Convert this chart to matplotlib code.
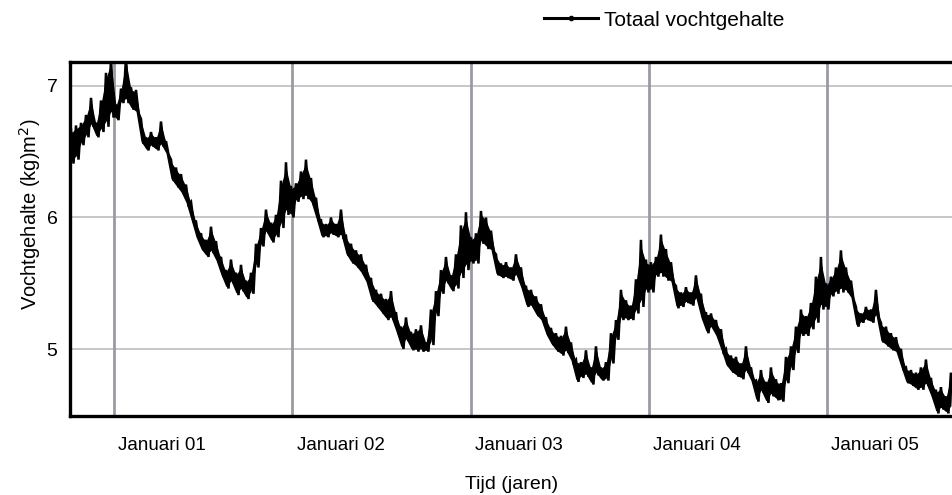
import numpy as np
import matplotlib
matplotlib.use("Agg")
import matplotlib.pyplot as plt
from matplotlib.lines import Line2D

# Time axis (years since start; "Januari 01" = 1.0), one sample per ~0.028 yr
start_year = 0.7588
step_year = 0.02804

# Upper / lower extent of the noisy daily signal (kg/m2)
upper = [6.67, 6.70, 6.72, 6.78, 6.91, 6.72, 6.89, 7.10, 7.22, 6.86,
         6.98, 7.22, 6.99, 6.97, 6.75, 6.61, 6.65, 6.61, 6.73, 6.58,
         6.44, 6.38, 6.33, 6.25, 6.12, 5.97, 5.88, 5.83, 5.93, 5.82,
         5.70, 5.60, 5.68, 5.58, 5.64, 5.52, 5.58, 5.80, 5.92, 6.06,
         5.96, 6.02, 6.28, 6.42, 6.24, 6.26, 6.35, 6.44, 6.30, 6.15,
         5.98, 5.95, 6.00, 5.95, 6.06, 5.86, 5.80, 5.75, 5.72, 5.64,
         5.54, 5.45, 5.42, 5.38, 5.44, 5.28, 5.17, 5.24, 5.13, 5.15,
         5.18, 5.05, 5.30, 5.44, 5.60, 5.70, 5.56, 5.72, 5.94, 6.04,
         5.85, 5.88, 6.05, 6.00, 5.90, 5.72, 5.65, 5.66, 5.62, 5.72,
         5.62, 5.48, 5.45, 5.40, 5.34, 5.24, 5.16, 5.12, 5.10, 5.17,
         5.05, 4.92, 4.90, 4.99, 4.86, 5.02, 4.86, 4.90, 5.12, 5.22,
         5.45, 5.37, 5.33, 5.53, 5.83, 5.68, 5.66, 5.70, 5.87, 5.76,
         5.66, 5.48, 5.43, 5.47, 5.43, 5.56, 5.42, 5.28, 5.27, 5.22,
         5.15, 5.00, 4.95, 4.94, 4.89, 5.02, 4.86, 4.76, 4.84, 4.75,
         4.86, 4.77, 4.74, 4.94, 5.02, 5.17, 5.30, 5.25, 5.35, 5.55,
         5.70, 5.50, 5.55, 5.62, 5.75, 5.62, 5.52, 5.32, 5.27, 5.32,
         5.30, 5.45, 5.20, 5.17, 5.12, 5.09, 5.00, 4.86, 4.84, 4.82,
         4.86, 4.92, 4.78, 4.69, 4.71, 4.64, 4.82]
lower = [6.41, 6.44, 6.55, 6.61, 6.69, 6.61, 6.65, 6.69, 6.76, 6.74,
         6.87, 6.87, 6.82, 6.79, 6.56, 6.51, 6.54, 6.51, 6.54, 6.48,
         6.28, 6.23, 6.18, 6.10, 5.97, 5.84, 5.75, 5.70, 5.73, 5.66,
         5.55, 5.46, 5.50, 5.41, 5.44, 5.38, 5.42, 5.62, 5.78, 5.88,
         5.81, 5.85, 5.92, 6.02, 6.00, 6.12, 6.14, 6.14, 6.10, 5.98,
         5.85, 5.85, 5.87, 5.85, 5.85, 5.71, 5.65, 5.62, 5.57, 5.50,
         5.36, 5.32, 5.27, 5.22, 5.22, 5.12, 5.00, 5.06, 4.99, 4.98,
         4.98, 4.98, 5.03, 5.25, 5.42, 5.50, 5.44, 5.46, 5.54, 5.60,
         5.65, 5.65, 5.80, 5.76, 5.74, 5.56, 5.54, 5.54, 5.52, 5.55,
         5.45, 5.32, 5.32, 5.25, 5.21, 5.10, 5.03, 4.98, 4.95, 4.97,
         4.90, 4.75, 4.78, 4.79, 4.73, 4.80, 4.76, 4.76, 4.89, 5.07,
         5.22, 5.22, 5.22, 5.27, 5.32, 5.43, 5.43, 5.55, 5.55, 5.52,
         5.50, 5.31, 5.32, 5.35, 5.33, 5.37, 5.22, 5.12, 5.16, 5.09,
         4.98, 4.87, 4.82, 4.79, 4.77, 4.82, 4.75, 4.60, 4.67, 4.59,
         4.64, 4.61, 4.60, 4.74, 4.84, 4.97, 5.10, 5.10, 5.15, 5.20,
         5.30, 5.30, 5.40, 5.42, 5.43, 5.43, 5.38, 5.17, 5.20, 5.22,
         5.20, 5.24, 5.05, 5.02, 4.99, 4.97, 4.85, 4.74, 4.72, 4.69,
         4.69, 4.72, 4.63, 4.51, 4.54, 4.51, 4.54]

year_ticks = [1, 2, 3, 4, 5]
year_labels = ["Januari 01", "Januari 02", "Januari 03", "Januari 04", "Januari 05"]
y_ticks = [5, 6, 7]
series_label = "Totaal vochtgehalte"

n = min(len(upper), len(lower))
t = start_year + step_year * np.arange(n)
up = np.array(upper[:n])
lo = np.array(lower[:n])
# interleave upper and lower readings to draw the daily fluctuation
tz = np.empty(2 * n)
vz = np.empty(2 * n)
tz[0::2] = t
tz[1::2] = t + step_year / 2
vz[0::2] = up
vz[1::2] = lo

plain = ["Liberation Sans", "DejaVu Sans"]

fig = plt.figure(figsize=(9.53, 4.95), dpi=100)
ax = fig.add_axes([70 / 953, 1 - 416 / 495, 883 / 953, 354 / 495])

# solid band of the fluctuation, with the jagged trace on top
mid = 0.5 * (up + lo)
half = 0.5 * (up - lo)
ax.fill_between(t, mid - 0.8 * half, mid + 0.8 * half, color="black", lw=0, zorder=3)
ax.plot(tz, vz, color="black", lw=1.8, solid_joinstyle="miter", zorder=3)

ax.set_xlim(0.7532, 5.7055)
ax.set_ylim(4.4905, 7.1825)

for yv in y_ticks:
    ax.axhline(yv, color="#bdbdbd", lw=1.2, zorder=1)
for xv in year_ticks:
    ax.axvline(xv, color="#9a9aa2", lw=2.0, zorder=2)

ax.set_yticks(y_ticks)
ax.set_yticklabels([str(v) for v in y_ticks], fontfamily=plain, fontsize=14)
ax.set_xticks([v + 0.27 for v in year_ticks])
ax.set_xticklabels(year_labels, fontfamily=plain, fontsize=13.5)
ax.tick_params(axis="y", length=0, pad=9)
ax.tick_params(axis="x", length=0, pad=15)

for s in ["top", "bottom", "left"]:
    ax.spines[s].set_linewidth(2.4)
    ax.spines[s].set_color("black")
ax.spines["right"].set_visible(False)

ax.set_xlabel("Tijd (jaren)", fontfamily=plain, fontsize=14, labelpad=16)
ax.set_ylabel("Vochtgehalte (kg)m$^{2}$)", fontfamily=plain, fontsize=14.5, labelpad=8)
ax.yaxis.set_label_coords(-27 / 883, 0.57)

proxy = Line2D([], [], color="black", lw=2.2, marker="o", markersize=3)
fig.legend([proxy], [series_label], loc="center left",
           bbox_to_anchor=(525 / 953, 1 - 20 / 495), frameon=False,
           handlelength=2.6, handletextpad=0.3, numpoints=1,
           prop={"family": plain, "size": 15})

fig.savefig("out.png", dpi=100)
